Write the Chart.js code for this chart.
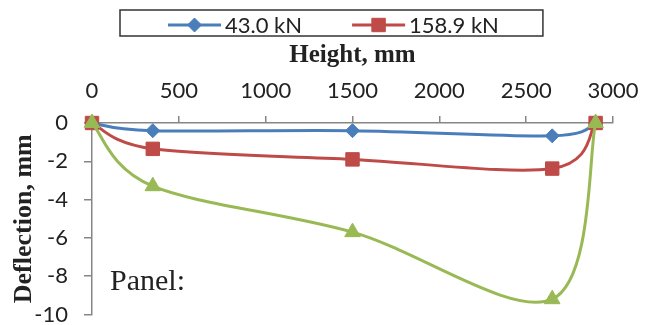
<!DOCTYPE html>
<html>
<head>
<meta charset="utf-8">
<script src="https://cdn.jsdelivr.net/npm/chart.js@4.4.1/dist/chart.umd.min.js"></script>
<style>
  body { margin: 0; background: #fff; }
</style>
</head>
<body>
<canvas id="myChart" width="652" height="325"></canvas>
<script>
const ctx = document.getElementById("myChart").getContext("2d");

// values
const heights = [0, 350, 1500, 2650, 2900];
const load43 = [0, -0.4, -0.4, -0.67, 0];
const load159 = [0, -1.35, -1.9, -2.38, 0];
const load3 = [0, -3.3, -5.7, -9.2, 0];
const seriesNames = ["43.0 kN", "158.9 kN", ""];
const xTicks = [0, 500, 1000, 1500, 2000, 2500, 3000];
const yTicks = [0, -2, -4, -6, -8, -10];

const blue = "#4a7ebb";
const red = "#be4b48";
const green = "#98b954";
const axisGray = "#868686";

function toPoints(ys) {
  return heights.map((h, i) => ({ x: h, y: ys[i] }));
}

// excel style smoothing: control points at +-(next - prev)/6
const excelSmooth = {
  id: "excelSmooth",
  beforeDatasetsDraw(chart) {
    chart.getSortedVisibleDatasetMetas().forEach((meta) => {
      meta.dataset.updateControlPoints(chart.chartArea, "x");
      const pts = meta.data;
      pts.forEach((p, i) => {
        const prev = pts[i - 1] || p;
        const next = pts[i + 1] || p;
        const dx = (next.x - prev.x) / 6;
        const dy = (next.y - prev.y) / 6;
        p.cp1x = p.x - dx;
        p.cp1y = p.y - dy;
        p.cp2x = p.x + dx;
        p.cp2y = p.y + dy;
      });
    });
  }
};

// legend with a frame, like the excel one (third entry is cut off)
const boxLegend = {
  id: "boxLegend",
  afterDraw(chart) {
    const c = chart.ctx;
    c.save();
    c.font = "22px Lato";
    c.textBaseline = "middle";
    c.textAlign = "left";
    let x = 168;
    const y = 25;
    chart.data.datasets.forEach((ds) => {
      if (!ds.label) return;
      c.strokeStyle = ds.borderColor;
      c.fillStyle = ds.backgroundColor;
      c.lineWidth = 3;
      c.beginPath();
      c.moveTo(x, y);
      c.lineTo(x + 53, y);
      c.stroke();
      c.lineWidth = 1;
      Chart.helpers.drawPoint(c, {
        pointStyle: ds.pointStyle,
        radius: ds.pointRadius,
        rotation: 0,
        borderWidth: 1
      }, x + 26.5, y);
      c.fillStyle = "#222";
      c.fillText(ds.label, x + 57, y + 1);
      x += 57 + c.measureText(ds.label).width + 50;
    });
    c.strokeStyle = "#333";
    c.lineWidth = 1.5;
    c.strokeRect(120, 10, x - 50 + 44 - 120, 26);

    // panel note inside the plot
    c.font = "30px 'Liberation Serif'";
    c.textBaseline = "alphabetic";
    c.fillStyle = "#222";
    c.fillText("Panel:", chart.chartArea.left + 18, chart.chartArea.top + 167);
    c.restore();
  }
};

const data = {
  datasets: [
    {
      label: seriesNames[0],
      data: toPoints(load43),
      borderColor: blue,
      backgroundColor: blue,
      pointStyle: "rectRot",
      pointRadius: 7,
      order: 3
    },
    {
      label: seriesNames[1],
      data: toPoints(load159),
      borderColor: red,
      backgroundColor: red,
      pointStyle: "rect",
      pointRadius: 9.5,
      order: 2
    },
    {
      label: seriesNames[2],
      data: toPoints(load3),
      borderColor: green,
      backgroundColor: green,
      pointStyle: "triangle",
      pointRadius: 9,
      order: 1
    }
  ]
};

const config = {
  type: "line",
  data: data,
  options: {
    responsive: false,
    animation: false,
    layout: {
      padding: { top: 43, left: 14, right: 39, bottom: 0 }
    },
    elements: {
      line: { borderWidth: 3, tension: 0.35 },
      point: { borderWidth: 1, hoverRadius: 9 }
    },
    datasets: {
      line: { clip: false }
    },
    plugins: {
      legend: { display: false },
      tooltip: { enabled: false }
    },
    scales: {
      x: {
        type: "linear",
        position: "top",
        min: 0,
        max: 3000,
        afterBuildTicks: (axis) => {
          axis.ticks = xTicks.map((v) => ({ value: v }));
        },
        afterFit: (axis) => {
          axis.height = 80;
        },
        grid: {
          drawOnChartArea: false,
          tickLength: 7,
          color: axisGray,
          lineWidth: 1.5
        },
        border: { color: axisGray, width: 1.5 },
        ticks: {
          padding: 12,
          maxRotation: 0,
          color: "#222",
          font: { family: "Lato", size: 22 },
          callback: (v) => String(v)
        },
        title: {
          display: true,
          text: "Height, mm",
          color: "#222",
          padding: { top: 0, bottom: 9 },
          font: { family: "'Liberation Serif'", size: 25, weight: "bold", lineHeight: 1 }
        }
      },
      y: {
        min: -10,
        max: 0,
        afterBuildTicks: (axis) => {
          axis.ticks = yTicks.map((v) => ({ value: v }));
        },
        afterFit: (axis) => {
          axis.width = 78;
          axis.paddingBottom = 9;
        },
        grid: {
          drawOnChartArea: false,
          tickLength: 8,
          color: axisGray,
          lineWidth: 1.5
        },
        border: { color: axisGray, width: 1.5 },
        ticks: {
          padding: 16,
          color: "#222",
          font: { family: "Lato", size: 22, lineHeight: 0.75 },
          callback: (v) => String(v)
        },
        title: {
          display: true,
          text: "Deflection, mm",
          color: "#222",
          padding: 0,
          font: { family: "'Liberation Serif'", size: 26, weight: "bold", lineHeight: 0.8 }
        }
      }
    }
  },
  plugins: [excelSmooth, boxLegend]
};

const myChart = new Chart(ctx, config);
</script>
</body>
</html>
